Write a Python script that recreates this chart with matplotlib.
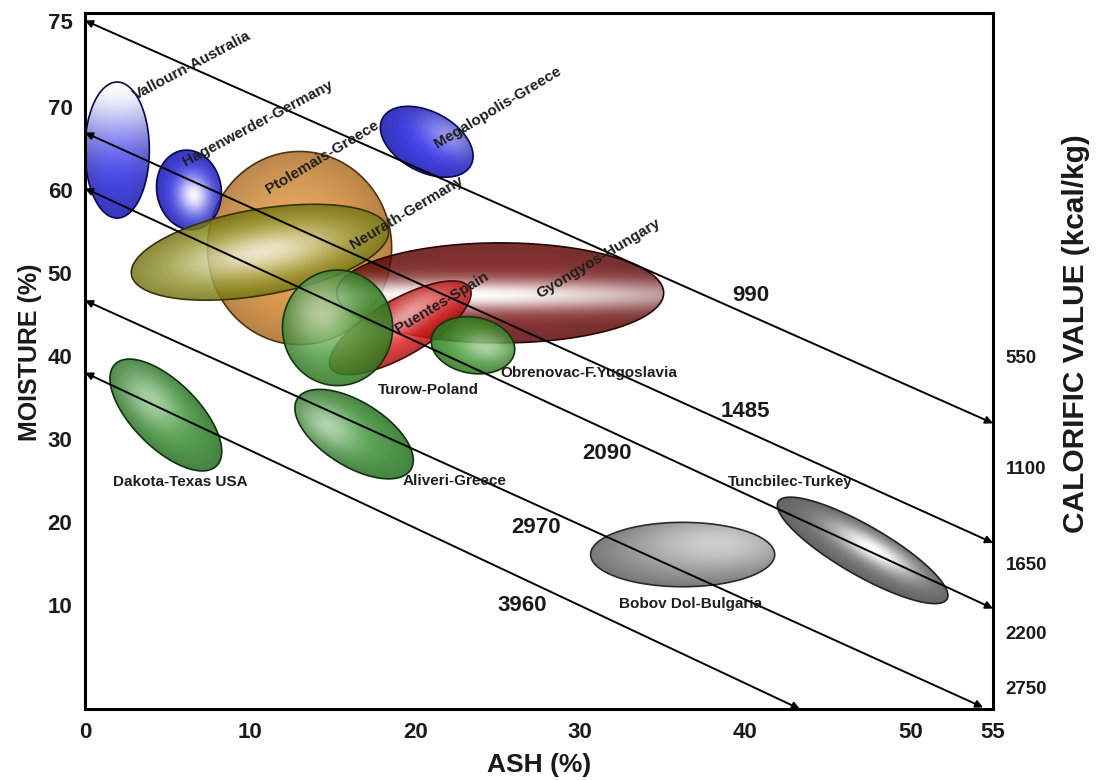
import numpy as np
import matplotlib
matplotlib.use('Agg')
import matplotlib.pyplot as plt
from matplotlib.patches import Polygon
from matplotlib.colors import to_rgb

plt.rcParams['font.family'] = ['Liberation Sans', 'DejaVu Sans']
plt.rcParams['font.weight'] = 'bold'

# lignite deposits: centre (ash %, moisture %), ellipse size in ash units, tilt (deg)
names = ['Ptolemais-Greece', 'Hagenwerder-Germany', 'Neurath-Germany', 'Gyongyos-Hungary',
         'Puentes-Spain', 'Turow-Poland', 'Obrenovac-F.Yugoslavia', 'Vallourn-Australia',
         'Megalopolis-Greece', 'Dakota-Texas USA', 'Aliveri-Greece', 'Bobov Dol-Bulgaria',
         'Tuncbilec-Turkey']
ash_c = [13.0, 6.3, 10.6, 25.15, 19.1, 15.3, 23.5, 1.95, 20.7, 4.9, 16.3, 36.2, 47.1]
moist_c = [53.0, 60.0, 52.5, 47.6, 43.4, 43.4, 41.3, 64.8, 65.8, 32.9, 30.6, 16.1, 16.6]
ell_w = [11.15, 3.9, 15.8, 19.8, 9.7, 6.67, 5.1, 3.9, 6.06, 8.7, 8.1, 11.15, 11.8]
ell_h = [11.7, 4.85, 5.2, 6.06, 3.4, 7.0, 3.4, 8.24, 3.64, 4.0, 3.9, 3.9, 3.0]
ell_ang = [0, 10, 10, 0, 30, 0, -10, 0, -28, -45, -32, 0, -30]
colors = ['#E28F2E', '#1818E8', '#979716', '#7A0C0C', '#E81818', '#3A9A28', '#3A9A28',
          '#1818E8', '#1818E8', '#32902A', '#32902A', '#777777', '#5E5E5E']
# highlight: u, v, spread u, spread v, strength
highlights = [(-0.2, 0.2, 0.7, 0.7, 0.12), (0.1, -0.15, 0.5, 0.5, 0.95), (0.0, 0.0, 0.6, 0.5, 0.85),
              (-0.3, -0.05, 1.6, 0.3, 1.0), (0.1, 0.25, 0.5, 0.5, 0.65), (-0.3, 0.25, 0.6, 0.6, 0.6),
              (0.3, 0.0, 0.6, 0.5, 0.5), (0.0, 1.0, 3.0, 0.9, 1.0), (0.3, 0.5, 0.6, 0.6, 0.45),
              (-0.3, 0.0, 0.5, 0.6, 0.5), (-0.4, -0.2, 0.5, 0.6, 0.55), (0.4, 0.4, 0.9, 0.9, 0.6),
              (0.1, 0.25, 0.5, 0.5, 1.0)]
label_x = [14.4, 10.5, 19.5, 31.1, 21.6, 20.8, 30.5, 6.5, 25.0, 5.75, 22.4, 36.7, 42.7]
label_y = [63.9, 68.0, 57.2, 51.8, 46.4, 35.9, 37.95, 75.0, 69.9, 24.8, 24.9, 10.1, 24.8]
label_rot = [31, 28, 31, 31, 31, 0, 0, 28, 31, 0, 0, 0, 0]

# iso-calorific lines (kcal/kg)
line_vals = ['990', '1485', '2090', '2970', '3960']
line_start_moist = [80.4, 66.9, 60.2, 46.7, 38.0]
line_end_ash = [55.0, 55.0, 55.0, 54.4, 43.3]
line_end_moist = [31.9, 17.5, 9.6, -2.3, -2.5]
line_lab_x = [40.3, 40.0, 31.6, 27.3, 26.5]
line_lab_y = [47.3, 33.3, 28.3, 19.4, 10.0]

cal_ticks = ['550', '1100', '1650', '2200', '2750']
cal_pos = [39.9, 26.6, 15.0, 6.7, 0.1]

xmin, xmax, ymin, ymax = 0, 55, -2.5, 81.3

fig = plt.figure(figsize=(10.99, 7.80), dpi=100)
ax = fig.add_axes([0.0773, 0.091, 0.8263, 0.8923])
ax.set_xlim(xmin, xmax)
ax.set_ylim(ymin, ymax)

# ratio of pixels per moisture unit to pixels per ash unit
W = 10.99 * 100 * 0.8263
H = 7.80 * 100 * 0.8923
r = (H / (ymax - ymin)) / (W / (xmax - xmin))


def draw_deposit(cx, cy, w, h, ang, color, hl, z):
    t = np.deg2rad(ang)
    s = np.linspace(0, 2 * np.pi, 200)
    dx = 0.5 * w * np.cos(s) * np.cos(t) - 0.5 * h * np.sin(s) * np.sin(t)
    dy = 0.5 * w * np.cos(s) * np.sin(t) + 0.5 * h * np.sin(s) * np.cos(t)
    poly = Polygon(np.column_stack([cx + dx, cy + dy / r]), closed=True,
                   facecolor='none', edgecolor=np.array(to_rgb(color)) * 0.35,
                   lw=1.2, zorder=z + 0.5)
    ax.add_patch(poly)

    R = 0.5 * max(w, h)
    xs = np.linspace(cx - R, cx + R, 260)
    ys = np.linspace(cy - R / r, cy + R / r, 260)
    X, Y = np.meshgrid(xs, ys)
    ex = X - cx
    ey = (Y - cy) * r
    u = (ex * np.cos(t) + ey * np.sin(t)) / (0.5 * w)
    v = (-ex * np.sin(t) + ey * np.cos(t)) / (0.5 * h)
    hu, hv, su, sv, k = hl
    f = k * np.exp(-(((u - hu) / su) ** 2 + ((v - hv) / sv) ** 2))
    rho = np.clip(u ** 2 + v ** 2, 0, 1)
    base = np.array(to_rgb(color))
    shade = base[None, None, :] * (1 - 0.25 * rho[..., None])
    img = shade * (1 - f[..., None]) + f[..., None]
    im = ax.imshow(np.clip(img, 0, 1), extent=(xs[0], xs[-1], ys[0], ys[-1]), origin='lower',
                   aspect='auto', interpolation='bilinear', alpha=0.85, zorder=z)
    im.set_clip_path(poly)


for i in range(len(names)):
    draw_deposit(ash_c[i], moist_c[i], ell_w[i], ell_h[i], ell_ang[i], colors[i],
                 highlights[i], 2 + i)

# iso lines with arrow heads
for i in range(len(line_vals)):
    ax.annotate('', xy=(line_end_ash[i], line_end_moist[i]), xytext=(0, line_start_moist[i]),
                arrowprops=dict(arrowstyle='<|-|>', color='black', lw=1.4,
                                mutation_scale=11, shrinkA=0, shrinkB=0),
                zorder=30, annotation_clip=False)
    ax.text(line_lab_x[i], line_lab_y[i], line_vals[i], fontsize=16, ha='center',
            va='center', color='#1a1a1a', zorder=35)

for i in range(len(names)):
    ax.text(label_x[i], label_y[i], names[i], fontsize=11, ha='center', va='center',
            rotation=label_rot[i], rotation_mode='anchor', color='#1e1e1e', zorder=40)

ax.set_xticks([0, 10, 20, 30, 40, 50, 55])
ax.set_yticks([10, 20, 30, 40, 50, 60, 70, line_start_moist[0]])
ax.set_yticklabels(['10', '20', '30', '40', '50', '60', '70', '75'])
ax.tick_params(length=0, labelsize=16, pad=9, colors='#1a1a1a')
for sp in ax.spines.values():
    sp.set_linewidth(2.2)
    sp.set_zorder(50)

ax2 = ax.twinx()
ax2.set_position(ax.get_position())
ax2.set_ylim(ymin, ymax)
ax2.set_yticks(cal_pos)
ax2.set_yticklabels(cal_ticks)
ax2.tick_params(length=0, labelsize=13.5, pad=9, colors='#1a1a1a')
for sp in ax2.spines.values():
    sp.set_visible(False)

ax.text(-0.061, 0.513, 'MOISTURE (%)', transform=ax.transAxes, rotation=90,
        ha='center', va='center', fontsize=18, color='#1a1a1a')
ax.text(0.5, -0.080, 'ASH (%)', transform=ax.transAxes, ha='center', va='center',
        fontsize=19, color='#1a1a1a')
ax.text(1.091, 0.540, 'CALORIFIC VALUE (kcal/kg)', transform=ax.transAxes, rotation=90,
        ha='center', va='center', fontsize=21.5, color='#1a1a1a')

fig.savefig('out.png', dpi=100)
